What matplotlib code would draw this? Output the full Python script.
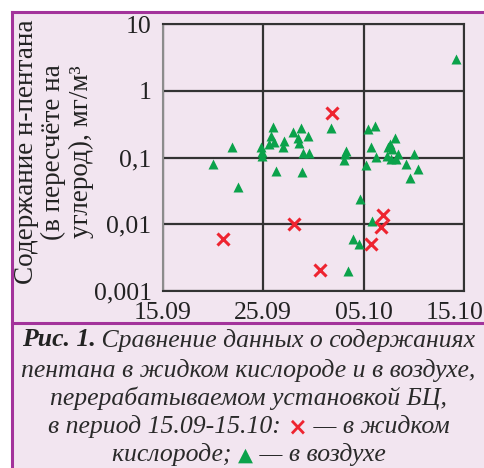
import matplotlib
matplotlib.use("Agg")
import matplotlib.pyplot as plt
import matplotlib.transforms as mtransforms
from matplotlib.patches import Rectangle
from matplotlib.lines import Line2D

# Days counted from 15.09; pentane content, mg/m3 (as carbon)
air_days = [5.0, 6.9, 7.5, 9.75, 9.9, 9.9, 10.95, 10.75, 10.6, 11.1, 11.3, 12.1,
            11.95, 12.95, 13.45, 13.55, 13.75, 14.45, 14.0, 14.55, 13.9, 16.75,
            18.25, 18.15, 18.0, 20.45, 21.1, 20.75, 20.25, 21.25, 19.65, 20.85,
            18.95, 19.55, 18.45, 22.4, 22.6, 22.8, 22.3, 22.7, 23.15, 23.2,
            23.45, 24.2, 24.95, 24.55, 25.35, 29.2]
air_vals = [0.080, 0.145, 0.036, 0.146, 0.120, 0.106, 0.285, 0.214, 0.160, 0.174,
            0.064, 0.176, 0.143, 0.243, 0.200, 0.168, 0.280, 0.211, 0.116, 0.119,
            0.061, 0.279, 0.127, 0.113, 0.092, 0.266, 0.300, 0.145, 0.0785, 0.102,
            0.0243, 0.0111, 0.0060, 0.0050, 0.0020, 0.146, 0.162, 0.136, 0.106,
            0.0955, 0.197, 0.095, 0.113, 0.079, 0.115, 0.0495, 0.067, 3.0]

lox_days = [5.95, 13.1, 15.6, 16.8, 20.75, 21.95, 21.7]
lox_vals = [0.0060, 0.0100, 0.00207, 0.468, 0.00507, 0.0140, 0.0092]

x_ticks = [0, 10, 20, 30]
x_labels = ["15.09", "25.09", "05.10", "15.10"]
y_ticks = [0.001, 0.01, 0.1, 1, 10]
y_labels = ["0,001", "0,01", "0,1", "1", "10"]

W, H = 485, 468
BG = "#F2E5F0"
FRAME = "#A3339B"
GRID = "#333333"
GREEN = "#0BA24B"
RED = "#EE2430"
SERIF = ["Liberation Serif", "DejaVu Serif"]

fig = plt.figure(figsize=(W / 100, H / 100), dpi=100)
fig.patch.set_facecolor("white")

def px(x, y):
    return x / W, 1 - y / H

# panel background and frame
x0, y0 = px(12, 12)
fig.patches.append(Rectangle((x0, 0), 1 - x0, y0, transform=fig.transFigure,
                             facecolor=BG, edgecolor="none", zorder=-5))
fig.add_artist(Line2D([x0, x0], [0, y0], transform=fig.transFigure, color=FRAME, lw=2.2))
fig.add_artist(Line2D([x0, 1], [y0, y0], transform=fig.transFigure, color=FRAME, lw=2.2))
ys = px(0, 323)[1]
fig.add_artist(Line2D([x0, 1], [ys, ys], transform=fig.transFigure, color=FRAME, lw=2.2))

left, top = px(162.7, 24.3)
right, bottom = px(464.3, 291)
ax = fig.add_axes([left, bottom, right - left, top - bottom])
ax.set_facecolor(BG)
ax.set_yscale("log")
ax.set_xlim(0, 30)
ax.set_ylim(0.001, 10)

ax.grid(True, which="major", color=GRID, lw=1.6)
ax.minorticks_off()
ax.tick_params(length=0, pad=8)
ax.set_xticks(x_ticks)
ax.set_xticklabels(x_labels, family=SERIF, fontsize=18.5, color="#222222")
ax.set_yticks(y_ticks)
ax.set_yticklabels(y_labels, family=SERIF, fontsize=18.5, color="#222222")
# the last date label sits slightly inward so it stays on the page
last = ax.get_xticklabels()[-1]
last.set_transform(last.get_transform() +
                   mtransforms.ScaledTranslation(-10 / 100, 0, fig.dpi_scale_trans))
for s in ["top", "right", "bottom"]:
    ax.spines[s].set_color(GRID)
    ax.spines[s].set_linewidth(1.5)
ax.spines["left"].set_color("#8c8c8c")
ax.spines["left"].set_linewidth(1.5)

ax.plot(air_days, air_vals, linestyle="none", marker="^", ms=7, color=GREEN,
        mec="none", zorder=3, clip_on=False)
ax.plot(lox_days, lox_vals, linestyle="none", marker="x", ms=8, mew=2.2,
        color=RED, zorder=3, clip_on=False)

yl = px(54, 152)
fig.text(yl[0], yl[1], "Содержание н-пентана\n(в пересчёте на\nуглерод), мг/м³",
         rotation=90, ha="center", va="center", multialignment="center",
         family=SERIF, fontsize=19.5, color="#222222", linespacing=1.12)

# caption, drawn as runs of differently styled text on each line
renderer = fig.canvas.get_renderer()

def line_of_runs(runs, y_px, size=18.5):
    pieces = []
    total = 0
    for txt, kw in runs:
        t = fig.text(0, 0, txt, fontsize=kw.pop("fontsize", size), va="center",
                     ha="left", **kw)
        bb = t.get_window_extent(renderer)
        pieces.append((t, bb.width))
        total += bb.width
    xs = (W / 2 + 6) - total / 2
    yf = px(0, y_px)[1]
    for t, w in pieces:
        t.set_position((xs / W, yf))
        xs += w

it = dict(family=SERIF, style="italic", color="#2a2a2a")
line_of_runs([("Рис. 1.", dict(family=SERIF, style="italic", weight="bold", color="#222222")),
              (" Сравнение данных о содержаниях", dict(it))], 340)
line_of_runs([("пентана в жидком кислороде и в воздухе,", dict(it))], 370)
line_of_runs([("перерабатываемом установкой БЦ,", dict(it))], 398)
line_of_runs([("в период 15.09-15.10: ", dict(it)),
              ("×", dict(family=["DejaVu Sans"], weight="bold", color=RED, fontsize=17)),
              (" — в жидком", dict(it))], 427)
line_of_runs([("кислороде; ", dict(it)),
              ("▲", dict(family=["DejaVu Sans"], color=GREEN, fontsize=14)),
              (" — в воздухе", dict(it))], 455)

fig.savefig("out.png", dpi=100, facecolor=fig.get_facecolor())
